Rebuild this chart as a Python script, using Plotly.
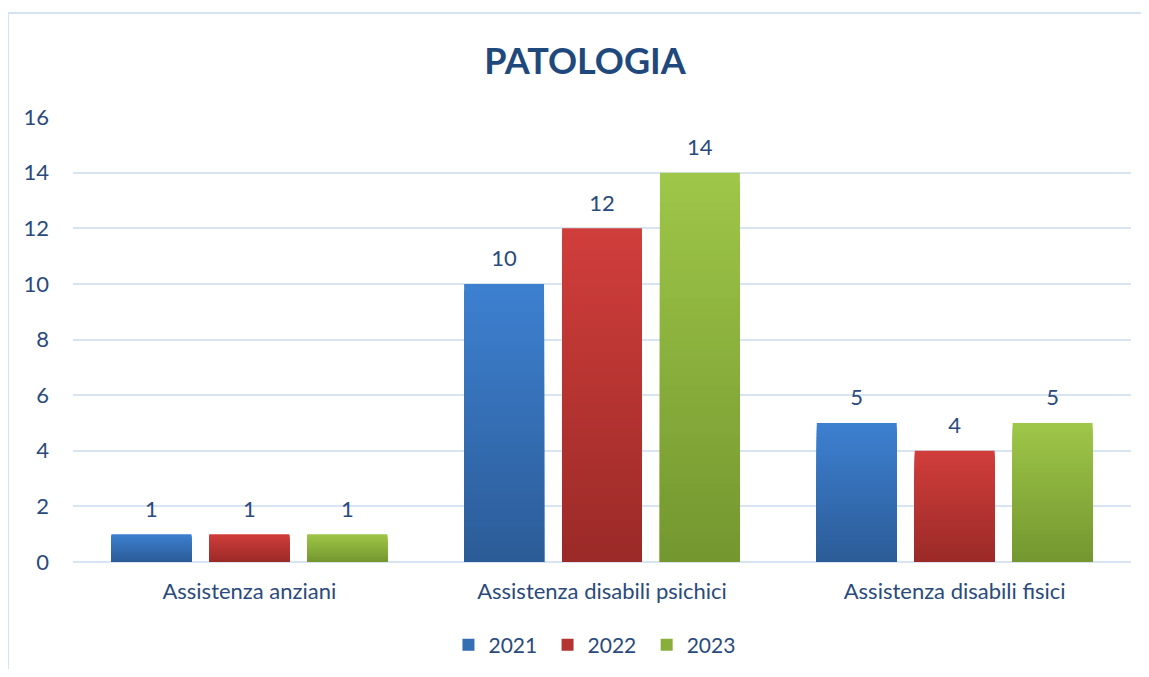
import plotly.graph_objects as go

categories = ["Assistenza anziani", "Assistenza disabili psichici", "Assistenza disabili fisici"]
years = ["2021", "2022", "2023"]
values_2021 = [1, 10, 5]
values_2022 = [1, 12, 4]
values_2023 = [1, 14, 5]
y_ticks = [0, 2, 4, 6, 8, 10, 12, 14, 16]

series = [values_2021, values_2022, values_2023]
# gradient colours (top, bottom) per series
grad = [((61, 128, 208), (44, 92, 152)),
        ((208, 62, 59), (155, 42, 40)),
        ((158, 198, 72), (117, 151, 48))]

FONT = "Lato"
TXT = "#2A4A7C"
N = 40
LABEL_PAD = 1.87  # height (axis units) of the transparent label carrier bars

def mix(c1, c2, t):
    return "rgb(%d,%d,%d)" % tuple(round(a + (b - a) * t) for a, b in zip(c1, c2))

fig = go.Figure()
for si, (vals, yr) in enumerate(zip(series, years)):
    top, bot = grad[si]
    # overlapping bars: tallest (top colour) first, shorter ones on top -> gradient without seams
    for k in range(N):
        frac = 1 - k / N
        t = 1 - k / (N - 1)
        fig.add_trace(go.Bar(
            x=categories,
            y=[v * frac for v in vals],
            offsetgroup=str(si),
            marker=dict(color=mix(bot, top, t), line=dict(width=0)),
            name=yr + "\u00a0",
            legendgroup=yr,
            showlegend=(k == N // 2),
            legendrank=si,
            hoverinfo="skip",
        ))
    # transparent carrier bars for the value labels
    fig.add_trace(go.Bar(
        x=categories,
        y=[LABEL_PAD] * len(vals),
        base=vals,
        offsetgroup=str(si),
        marker=dict(color="rgba(0,0,0,0)", line=dict(width=0)),
        text=[str(v) for v in vals],
        textposition="inside",
        insidetextanchor="middle",
        constraintext="none",
        textangle=0,
        insidetextfont=dict(family=FONT, size=22, color=TXT),
        showlegend=False,
        hoverinfo="skip",
    ))

fig.update_layout(
    width=1133, height=661,
    margin=dict(l=65, r=10, t=109, b=107, autoexpand=False),
    paper_bgcolor="white", plot_bgcolor="white",
    barmode="group", bargap=0.167, bargroupgap=0.184,
    title=dict(text="<b>PATOLOGIA</b>", x=0.5093, xanchor="center", y=0.9198, yanchor="middle",
               font=dict(family=FONT, size=36, color="#1F497D")),
    font=dict(family=FONT, size=22, color=TXT),
    legend=dict(orientation="h", x=0.4957, xanchor="center", y=-0.1865, yanchor="middle",
                font=dict(family=FONT, size=21, color=TXT), traceorder="normal",
                itemwidth=30),
    showlegend=True,
)
fig.update_xaxes(showgrid=False, showline=False, ticks="", tickfont=dict(family=FONT, size=22, color=TXT),
                 ticklabelstandoff=14, automargin=False)
fig.update_yaxes(range=[0, 16], tickvals=y_ticks, showgrid=True, gridcolor="#D9E4F3", gridwidth=2,
                 zeroline=True, zerolinecolor="#D9E4F3", zerolinewidth=2, showline=False,
                 tickfont=dict(family=FONT, size=22, color=TXT), ticklabelstandoff=23, automargin=False)

# chart-area frame: top and left edges (others fall outside the picture)
bx0 = (8 - 73) / 1058
by1 = (562 - 13) / 445
fig.add_shape(type="line", xref="paper", yref="paper", x0=bx0, x1=(1400 - 73) / 1058, y0=by1, y1=by1,
              line=dict(color="#D6E3F5", width=2), layer="below")
fig.add_shape(type="line", xref="paper", yref="paper", x0=bx0, x1=bx0, y0=(562 - 900) / 445, y1=by1,
              line=dict(color="#D6E3F5", width=2), layer="below")

fig.write_html("out.html")
